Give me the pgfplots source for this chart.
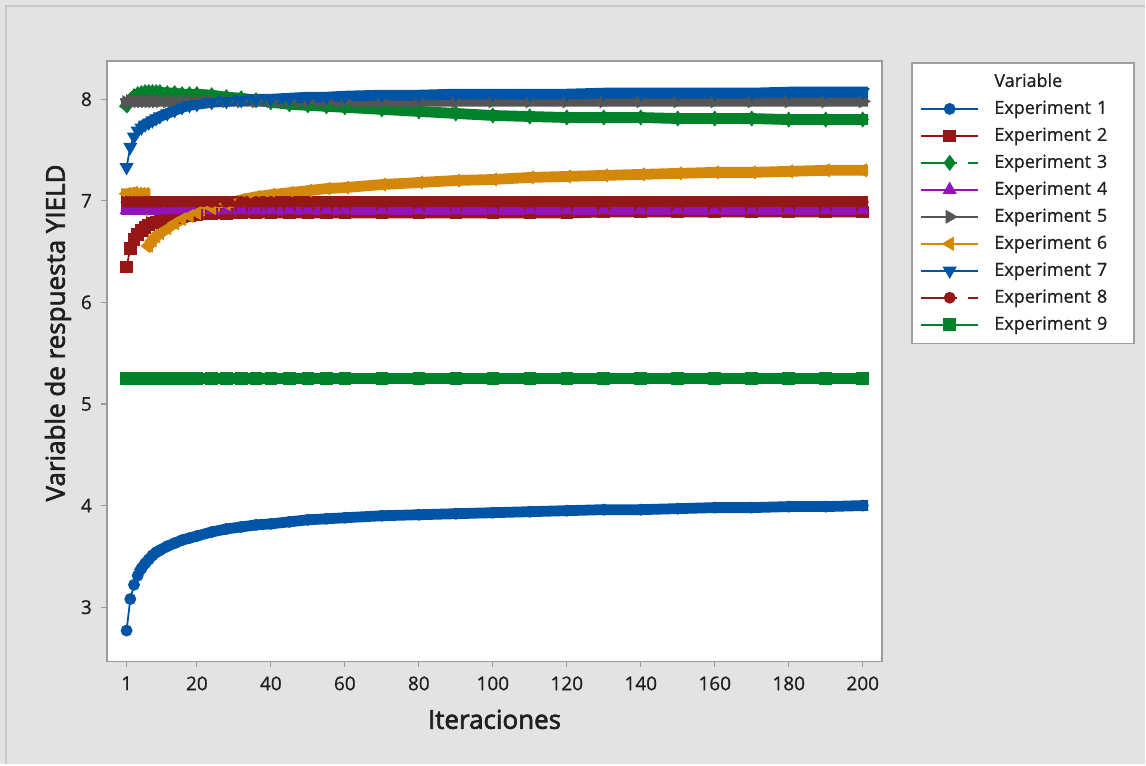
\documentclass[border=0pt]{standalone}
\usepackage{fontspec}
\setmainfont{Open Sans}[FakeBold=0.8]
\newfontfamily\labfont{Open Sans}[FakeBold=2.4]
\usepackage{pgfplots}
\usepackage{pgfplotstable}
\pgfplotsset{compat=1.18}
\definecolor{cBlue}{HTML}{0054A6}
\definecolor{cRed}{HTML}{941616}
\definecolor{cGreen}{HTML}{00822A}
\definecolor{cPurple}{HTML}{9313B8}
\definecolor{cGray}{HTML}{555555}
\definecolor{cOrange}{HTML}{D4880A}
\definecolor{bgc}{HTML}{E3E3E3}
\definecolor{framec}{HTML}{C9C9C9}
\definecolor{axisgray}{HTML}{9B9B9B}

\pgfplotstableread{
x   e1   e2   e3   e4   e5   e6   e7   e8   e9
1   2.77 6.35 7.94 6.91 7.97 7.07 7.33 6.99 5.25
2   3.08 6.53 7.99 6.91 7.98 7.07 7.53 6.99 5.25
3   3.22 6.62 8.03 6.91 7.98 7.08 7.63 6.99 5.25
4   3.31 6.67 8.05 6.91 7.98 7.07 7.69 6.99 5.25
5   3.38 6.71 8.06 6.91 7.98 7.07 7.72 6.99 5.25
6   3.43 6.74 8.07 6.91 7.98 7.07 7.75 6.99 5.25
7   3.47 6.76 8.07 6.91 7.98 6.56 7.77 6.99 5.25
8   3.51 6.78 8.07 6.91 7.98 6.61 7.79 6.99 5.25
9   3.54 6.79 8.07 6.91 7.98 6.65 7.81 6.99 5.25
10  3.56 6.80 8.07 6.91 7.98 6.68 7.83 6.99 5.25
12  3.60 6.82 8.06 6.91 7.98 6.73 7.86 6.99 5.25
14  3.63 6.83 8.06 6.91 7.98 6.78 7.89 6.99 5.25
16  3.66 6.84 8.05 6.91 7.98 6.82 7.92 6.99 5.25
18  3.68 6.85 8.05 6.91 7.98 6.85 7.94 6.99 5.25
20  3.70 6.86 8.05 6.91 7.98 6.88 7.95 6.99 5.25
24  3.74 6.87 8.04 6.91 7.98 6.93 7.97 6.99 5.25
28  3.77 6.87 8.02 6.91 7.98 6.97 7.98 6.99 5.25
32  3.79 6.88 8.01 6.91 7.98 7.01 7.99 6.99 5.25
36  3.81 6.88 7.99 6.91 7.98 7.04 8.00 6.99 5.25
40  3.82 6.88 7.97 6.91 7.98 7.06 8.00 6.99 5.25
45  3.84 6.88 7.95 6.91 7.98 7.08 8.01 6.99 5.25
50  3.86 6.88 7.94 6.91 7.98 7.10 8.02 6.99 5.25
55  3.87 6.88 7.93 6.91 7.98 7.12 8.02 6.99 5.25
60  3.88 6.88 7.92 6.91 7.98 7.13 8.03 6.99 5.25
70  3.90 6.88 7.90 6.91 7.98 7.16 8.04 6.99 5.25
80  3.91 6.88 7.88 6.91 7.98 7.18 8.04 6.99 5.25
90  3.92 6.88 7.86 6.91 7.98 7.20 8.05 6.99 5.25
100 3.93 6.88 7.84 6.91 7.98 7.21 8.05 6.99 5.25
110 3.94 6.88 7.83 6.91 7.98 7.23 8.05 6.99 5.25
120 3.95 6.88 7.82 6.91 7.98 7.24 8.05 6.99 5.25
130 3.96 6.89 7.82 6.91 7.98 7.25 8.06 6.99 5.25
140 3.96 6.89 7.82 6.91 7.98 7.26 8.06 6.99 5.25
150 3.97 6.89 7.81 6.91 7.98 7.27 8.06 6.99 5.25
160 3.98 6.89 7.81 6.91 7.98 7.28 8.06 6.99 5.25
170 3.98 6.89 7.81 6.91 7.98 7.28 8.06 6.99 5.25
180 3.99 6.89 7.80 6.91 7.98 7.29 8.07 6.99 5.25
190 3.99 6.89 7.80 6.91 7.98 7.30 8.07 6.99 5.25
200 4.00 6.89 7.80 6.91 7.98 7.30 8.07 6.99 5.25
}\data

\pgfplotsset{
  band/.style={line width=5.4pt, no marks, forget plot, line cap=rect, solid},
  ser/.style={line width=0.9pt, mark options={solid}},
}

\begin{document}
\begin{tikzpicture}[x=1pt,y=1pt]
\fill[bgc] (0,0) rectangle (573,382.5);
\draw[framec, line width=1pt] (3.2,0) -- (3.2,379.6) -- (573,379.6);
\begin{axis}[
  at={(53.5pt,51.5pt)}, anchor=south west,
  scale only axis, width=388pt, height=300.5pt,
  xmin=-4.32, xmax=205.27, ymin=2.466, ymax=8.377,
  xtick={1,20,40,60,80,100,120,140,160,180,200},
  ytick={3,4,5,6,7,8},
  tick pos=left, tick align=outside, major tick length=3pt,
  axis line style={axisgray, line width=0.8pt},
  tick style={axisgray, line width=0.6pt},
  axis background/.style={fill=white},
  /pgf/number format/assume math mode=true,
  ticklabel style={font=\fontsize{9.5}{11}\selectfont, text=black!88},
  xticklabel style={yshift=-1pt},
  yticklabel style={xshift=-1pt},
  xlabel={\labfont Iteraciones},
  ylabel={\labfont Variable de respuesta YIELD},
  label style={font=\fontsize{13}{15}\selectfont, text=black!88},
  xlabel style={at={(axis description cs:0.5,0)}, anchor=center, yshift=-29pt},
  ylabel style={at={(axis description cs:0,0.547)}, anchor=center, yshift=24.5pt},
  clip=false,
  legend cell align=left,
  legend style={at={(1.0374,0.998)}, anchor=north west,
    draw=gray!75, line width=0.8pt, fill=white,
    font=\fontsize{9}{10}\selectfont, text=black!88,
    inner xsep=4pt, inner ysep=5pt, row sep=4.5pt,
    nodes={inner sep=0pt, text height=7pt, text depth=2pt},
    /tikz/every odd column/.append style={column sep=7.5pt},
    /tikz/every even column/.append style={text width=66pt}},
  legend image code/.code={
    \draw[mark repeat=2, mark phase=2, #1] plot coordinates {(0pt,0pt) (14.4pt,0pt) (28.8pt,0pt)};
  },
]
\addlegendimage{empty legend}\addlegendentry{Variable}

\addplot[band, cBlue, restrict x to domain=5:200] table[x=x, y=e1] {\data};
\addplot[ser, cBlue, mark=*, mark size=2.5pt] table[x=x, y=e1] {\data};
\addlegendentry{Experiment 1}

\addplot[band, cRed, restrict x to domain=4:200] table[x=x, y=e2] {\data};
\addplot[ser, cRed, mark=square*, mark size=2.7pt] table[x=x, y=e2] {\data};
\addlegendentry{Experiment 2}

\addplot[band, cGreen] table[x=x, y=e3] {\data};
\addplot[ser, cGreen, mark=diamond*, mark size=3.3pt, dash pattern=on 18pt off 5.8pt on 5pt off 5pt] table[x=x, y=e3] {\data};
\addlegendentry{Experiment 3}

\addplot[band, cPurple] table[x=x, y=e4] {\data};
\addplot[ser, cPurple, mark=triangle*, mark size=3.2pt] table[x=x, y=e4] {\data};
\addlegendentry{Experiment 4}

\addplot[band, cGray] table[x=x, y=e5] {\data};
\addplot[ser, cGray, mark=triangle*, mark size=3.2pt, mark options={rotate=-90}] table[x=x, y=e5] {\data};
\addlegendentry{Experiment 5}

\addplot[band, cOrange, restrict x to domain=1:6] table[x=x, y=e6] {\data};
\addplot[band, cOrange, restrict x to domain=7:200] table[x=x, y=e6] {\data};
\addplot[ser, cOrange, mark=triangle*, mark size=3.2pt, mark options={rotate=90}] table[x=x, y=e6] {\data};
\addlegendentry{Experiment 6}

\addplot[band, cBlue, restrict x to domain=6:200] table[x=x, y=e7] {\data};
\addplot[ser, cBlue, mark=triangle*, mark size=3.2pt, mark options={rotate=180}] table[x=x, y=e7] {\data};
\addlegendentry{Experiment 7}

\addplot[band, cRed] table[x=x, y=e8] {\data};
\addplot[ser, cRed, mark=*, mark size=2.5pt, dash pattern=on 18pt off 5.8pt on 5pt off 5pt] table[x=x, y=e8] {\data};
\addlegendentry{Experiment 8}

\addplot[band, cGreen] table[x=x, y=e9] {\data};
\addplot[ser, cGreen, mark=square*, mark size=2.7pt] table[x=x, y=e9] {\data};
\addlegendentry{Experiment 9}
\end{axis}
\end{tikzpicture}
\end{document}
